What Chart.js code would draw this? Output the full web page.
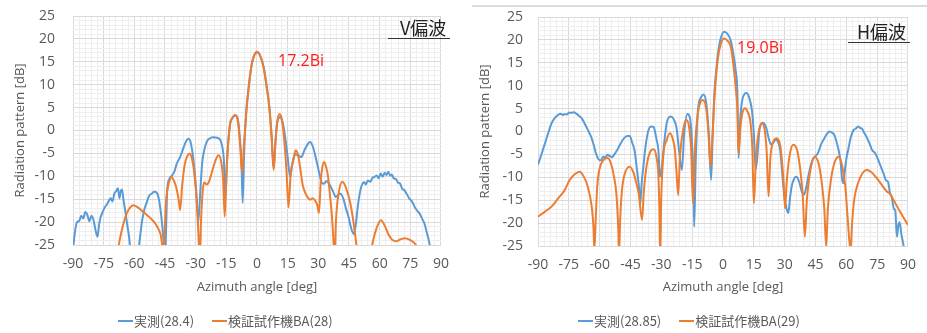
<!DOCTYPE html>
<html>
<head>
<meta charset="utf-8">
<script src="https://cdn.jsdelivr.net/npm/chart.js@4.4.1/dist/chart.umd.min.js"></script>
<style>
  body { margin: 0; background: #fff; width: 927px; height: 333px; position: relative; overflow: hidden; font-family: "Open Sans", "Noto Sans CJK JP", sans-serif; }
  .panel { position: absolute; top: 0; height: 333px; }
  .panel canvas { display: block; }
  .txt { position: absolute; white-space: nowrap; }
  .peak { color: #ff1a1a; font-size: 16px; line-height: 16px; }
  .pol { color: #222; font-size: 18px; line-height: 18px; font-family: "Noto Sans CJK JP", sans-serif; }
  .uline { position: absolute; height: 1px; background: #333; }
  .legend { position: absolute; top: 311px; font-size: 13px; color: #595959; font-family: "Noto Sans CJK JP", sans-serif; display: flex; align-items: center; }
  .legend .sw { display: inline-block; width: 15px; height: 2px; margin-right: 1px; }
  .legend .item { display: flex; align-items: center; margin-right: 18px; }
  #topline { position: absolute; left: 472px; top: 5px; width: 455px; height: 2px; background: #dcdcdc; }
</style>
</head>
<body>
<div id="topline"></div>
<div class="panel" style="left:0;width:460px"><canvas id="vChart" width="460" height="333"></canvas></div>
<div class="panel" style="left:465px;width:462px"><canvas id="hChart" width="462" height="333"></canvas></div>

<div class="txt peak" style="left:278px;top:52px">17.2Bi</div>
<div class="txt pol" style="left:400px;top:18px">V偏波</div>
<div class="uline" style="left:388px;top:38px;width:62px"></div>

<div class="txt peak" style="left:737px;top:39px">19.0Bi</div>
<div class="txt pol" style="left:857px;top:22px">H偏波</div>
<div class="uline" style="left:848px;top:42px;width:62px"></div>

<div class="legend" style="left:118px">
  <span class="item"><span class="sw" style="background:#5b9bd5"></span>実測(28.4)</span>
  <span class="item"><span class="sw" style="background:#ed7d31"></span>検証試作機BA(28)</span>
</div>
<div class="legend" style="left:578px">
  <span class="item"><span class="sw" style="background:#5b9bd5"></span>実測(28.85)</span>
  <span class="item"><span class="sw" style="background:#ed7d31"></span>検証試作機BA(29)</span>
</div>

<script>
// V polarisation - measured (blue)
const vMeasAngle = [-90,-89,-88,-87,-86,-85,-84,-83,-82,-81,-80,-79.3,-78.6,-78,-77.2,-76.4,-75.5,-74.5,-73.5,-72.5,-71.5,-70.7,-69.8,-68.8,-68,-67.3,-66.6,-66,-65.3,-64.5,-63.5,-62.5,-61.5,-58.5,-57.4,-56.3,-55.2,-54,-52.8,-51.5,-50.3,-49,-47.9,-47,-46.2,-45.5,-45,-44.5,-43.9,-42.8,-41.5,-40.3,-39.2,-37.6,-36,-34.6,-33.6,-32.5,-31.5,-30.4,-29.6,-28.7,-27.7,-26.8,-25.8,-24.6,-23.4,-21.5,-19.5,-18,-17,-16.2,-15.5,-14.6,-13.2,-12,-10.5,-9.3,-8.4,-7.6,-7,-6.3,-5.3,-3.9,-2.8,-1.4,0.2,1.6,3.4,4.7,5.9,7.1,8.2,9,9.9,11.3,12.5,13.8,15,16.2,17.3,18.6,20,21.7,23.2,24.9,26,27.3,28.9,30.5,31.8,32.8,34,35.5,37.2,38.5,39.4,40.7,42.2,43.5,44.7,46.3,47.4,48.2,49.5,51,52.5,53.2,54.2,55.5,56.5,57.3,58.5,59.5,60.5,61.5,62.4,63.3,64.2,65.2,66,66.8,68,69,70,71,72,73.2,74.5,75.5,76.3,77.5,78.5,79.5,80.7,81.9,83,84.3,85.5];
const vMeasDb = [-26,-22,-20,-19.8,-18.6,-19.2,-17.8,-18.4,-19.8,-18.6,-19.5,-21,-22.5,-23.2,-20.5,-18.8,-17.8,-16.8,-16.2,-15.4,-14.8,-15.5,-13.8,-13.2,-12.6,-14.8,-13.2,-12.9,-15.2,-17.4,-20.5,-23.5,-28,-28,-24,-20,-17.4,-15.8,-14.3,-13.8,-13.4,-13.6,-15.2,-18,-21.5,-25.5,-30,-22,-13,-10.5,-9.8,-8.8,-7.2,-5.8,-3.8,-2.3,-1.8,-2.5,-5,-9.5,-14,-20,-13,-7,-4.3,-2.5,-1.8,-1.5,-1.6,-2,-3.5,-6.5,-15,-6,1.3,2.7,3.3,2.3,-1.5,-7,-15.8,-5,4,10,13.8,16.4,17.1,16.3,13.6,9.8,5.8,-0.8,-8.2,-2.5,1.8,2.9,1.8,-1.5,-5.8,-10.2,-7.2,-5.2,-5.4,-5.8,-4.3,-2.9,-2.5,-3.5,-6.2,-9.4,-11.5,-11.6,-11,-11.8,-13.3,-14.5,-14.2,-13.8,-14.8,-17,-18.8,-21.7,-22.6,-21,-15.9,-12.3,-11.3,-11.8,-10.9,-11.2,-10.3,-10.2,-9.8,-10.4,-9.4,-10.1,-9.2,-9.7,-9.0,-9.9,-9.6,-10.4,-10.6,-11.4,-11.6,-12.7,-13,-13.8,-14.9,-15.3,-15.9,-17,-17.6,-18.1,-19.2,-20.3,-22.2,-24.6,-28];

// V polarisation - prototype BA (orange)
const vSimAngle = [-70,-68,-66.5,-65,-63.7,-62.2,-60.6,-58.8,-56.6,-54,-51.9,-49.6,-48,-47,-46.3,-45.8,-45.2,-44.4,-43.3,-41.8,-40.4,-39.2,-38.2,-37.6,-36.6,-35.3,-34,-32.9,-31.8,-30.5,-29.4,-28.5,-28.1,-27.4,-26.6,-25.8,-24.6,-23.5,-21.8,-20.2,-18.8,-17.5,-16.6,-15.8,-14.8,-13.3,-12,-10.7,-9.3,-8.2,-7.3,-6.3,-5.2,-3.9,-2.8,-1.3,0,1.4,3.3,4.7,5.9,7.1,8.1,9.2,10,11,12.2,13.4,14.5,15.4,16.5,17.8,18.9,20,21,22.3,23.5,24.8,26,27.2,28.4,29.5,30.3,31.2,31.9,32.8,33.7,34.6,35.8,36.7,37.5,37.9,38.6,39.9,41.8,43.9,45.5,46.7,47.8,48.7,50,54,55.5,56.8,58.5,60.6,62.5,64.2,66,68,70,72.4,74.8,76.5,78,80];
const vSimDb = [-32,-26,-22.5,-19.8,-18.1,-16.9,-16.3,-16.6,-17.4,-18.4,-19.2,-20.4,-21.7,-23,-25.5,-28,-22,-15,-11.8,-10.2,-11.2,-13,-15.5,-17.4,-12,-7.3,-5.5,-5.1,-6.2,-10,-16,-24.5,-30,-20,-13.5,-11.3,-11.8,-11.2,-8.7,-6.4,-5.4,-6.8,-10.5,-18.8,-8,1,2.8,3.4,1.8,-3.5,-9.3,-2.5,4,10.2,13.9,16.5,17.2,16.5,13.6,9.5,5.5,-1,-8.6,-1.5,2.2,3.6,2.3,-2.5,-9.5,-16.8,-9.2,-6.5,-4.3,-5.2,-7.8,-11.8,-13.5,-14.6,-15.1,-14.8,-15.3,-16.3,-18,-11,-8.2,-6.9,-7.8,-9.6,-14.6,-19,-25,-30,-20,-13.8,-11.2,-13,-15.6,-18.5,-22,-25.2,-30,-30,-27,-24,-21.3,-19.6,-20.8,-22.6,-23.8,-24.2,-23.8,-23.5,-23.9,-24.4,-25.2,-28];

// H polarisation - measured (blue)
const hMeasAngle = [-90,-88.2,-86.6,-85,-83.4,-81.8,-80.3,-79,-78,-77,-76,-75,-73.8,-72.5,-71.4,-70,-68.6,-67.4,-65.8,-64.2,-63,-61.8,-60.5,-59.4,-58.3,-57.2,-56.2,-55,-54,-53,-51.4,-49.8,-48.2,-46.6,-45.4,-44.2,-43,-41.9,-40.8,-40.2,-39.6,-38.7,-37.7,-36.3,-35,-33.8,-32.4,-31.4,-30.7,-29.8,-28.6,-27.4,-25.6,-24,-22.6,-21.3,-20,-18.9,-17.3,-16.1,-15.2,-14.5,-14,-13.3,-12.2,-10.6,-9.4,-8.1,-6.9,-5.8,-5,-4.2,-3.2,-2.4,-1.2,0.6,2.2,3.8,5,6.2,7,7.6,8.3,9.4,11.5,12.8,14.1,15,15.9,16.7,17.8,19.3,20.8,22.2,23.3,24.5,25.6,26.7,27.8,28.7,29.8,31,31.8,32.6,33.4,34.6,35.8,37.2,38.4,39.4,40.4,41.4,42.6,43.8,45,46.3,47.8,49.4,50.6,51.8,53.2,54.2,55,56.2,57.1,58,58.6,59.3,60,61,62.2,63.5,64.6,65.7,66.7,67.8,68.6,69.4,70.5,71.6,72.6,73.8,75,76.2,77.4,78.3,79.2,80.3,81.2,82.2,83.1,83.8,84.6,85.3,85.9,86.8,87.8,88.8];
const hMeasDb = [-7.2,-4.8,-2.6,-0.3,1.8,3,3.6,3.9,3.6,3.8,3.7,4.1,4.1,4.2,3.9,3.4,2.8,1.8,0.4,-1.1,-2.8,-4.8,-6.1,-6.3,-5.5,-5.6,-5.1,-5.4,-5.6,-5.1,-4,-2.6,-1.5,-1,-1,-2.4,-4.2,-8.2,-12.5,-15.8,-11.5,-7.5,-3.3,0.2,1.1,1,-1.6,-4.2,-9.9,-8,-2.5,1.8,3.3,2.7,0.8,-4.5,-8.4,-0.5,3.8,3,-1.5,-9,-20.8,-7,4.5,7.5,8.1,6,-0.5,-10.6,-0.5,8.3,13.8,17.1,20.2,21.8,21.3,19.8,17,13.2,8.5,-5.8,2,6.9,8.4,7.3,4.5,-0.5,-8.2,-5.5,0.5,1.9,1.1,-1.4,-2.8,-2.4,-1.8,-2.2,-4,-8.5,-14,-17,-17.8,-14.5,-12,-10.3,-9.9,-11.2,-13.2,-13.8,-12.4,-10,-7.6,-6,-5.4,-4.6,-2.7,-1.4,-0.5,0,-0.3,-0.8,-1.9,-4,-6.2,-10.5,-11.3,-8.5,-6,-3.8,-1.2,0.3,0.6,1.1,0.8,0.5,-0.2,-0.8,-1.8,-3,-4.1,-4.6,-5.6,-7,-8.4,-9.4,-10.6,-11,-13.3,-14.5,-16.9,-17.2,-23,-20.5,-19.8,-22.5,-24.8,-28];

// H polarisation - prototype BA (orange)
const hSimAngle = [-90,-86.6,-83.4,-80,-77,-74.6,-72,-69.8,-67.8,-65.8,-64,-63,-62.6,-62,-61.2,-60.2,-58.3,-56.2,-54.5,-53,-51.8,-50.9,-50.6,-50,-49.2,-48.2,-45.5,-43.5,-42.5,-41,-39.4,-38.5,-37,-35.5,-33.8,-32.4,-31.4,-30.9,-30.6,-30,-29,-27.4,-25.8,-24.5,-23.4,-22.6,-21.8,-21,-19.4,-17.8,-16.5,-15.5,-14.6,-13.8,-12.2,-9.8,-8,-7,-6.1,-5,-4.2,-2.6,-1,0.6,2.2,3.8,5.2,6.3,7,7.5,8.5,9.4,10.7,12,13.4,14.3,15,16,17.2,19,20.2,21.2,22.2,23,24.5,26.2,27.8,28.8,29.6,30.2,31,32.5,34.2,36,37.5,38.8,39.8,40.8,42.5,44.6,46.5,48,49.3,50.2,51,52.7,54.5,56.3,58,59.5,60.5,61.5,62.1,62.8,63.8,65.5,68,70,72,74.5,77,79.5,81.4,84,86.5,88.5,90];
const hSimDb = [-18.6,-17.5,-16.4,-14.5,-12.8,-10.6,-9.3,-8.8,-9.8,-12,-16,-21,-26,-20,-12,-8.4,-6.3,-5.8,-7,-9.9,-14,-22,-27,-19,-13,-9.9,-7.7,-9,-10.7,-13.5,-19.3,-13,-7,-4.5,-3.9,-5.5,-9.9,-18,-27,-14,-5,-1.9,-0.4,-1.5,-4,-9,-13.9,-6,0.3,2.5,1,-4,-15.7,-5,4,6.9,4.5,-1,-7.7,0,7,15.6,19.2,20.3,19.8,18.5,14,9,4.7,-4.8,1,4,5.1,4.3,1.8,-4,-15.7,-6,-0.5,1.8,0.5,-4,-14.2,-6,-2.2,-1.5,-3,-7,-12,-16.8,-11,-5,-2.9,-4,-8,-14,-23,-15,-8.5,-5.5,-7,-11,-17,-25.2,-17,-10,-6.5,-5.5,-7.5,-12,-18,-24,-26,-20,-15,-11.5,-9,-8.4,-8.8,-10,-11.5,-13,-13.7,-15.8,-17.8,-19.3,-20.4];

const xTicks = [-90, -75, -60, -45, -30, -15, 0, 15, 30, 45, 60, 75, 90];
const yTicks = [25, 20, 15, 10, 5, 0, -5, -10, -15, -20, -25];

const blue = '#5b9bd5';
const orange = '#ed7d31';
const labelColor = '#595959';

function zip(ax, ys) {
    return ax.map((a, i) => ({ x: a, y: ys[i] }));
}

function makeChart(id, measA, measD, simA, simD, opts) {
    const ctx = document.getElementById(id).getContext('2d');
    return new Chart(ctx, {
        type: 'line',
        data: {
            datasets: [{
                label: 'meas',
                data: zip(measA, measD),
                borderColor: blue,
                borderWidth: 2,
                pointRadius: 0,
                cubicInterpolationMode: 'monotone',
                order: 2
            }, {
                label: 'sim',
                data: zip(simA, simD),
                borderColor: orange,
                borderWidth: 2,
                pointRadius: 0,
                cubicInterpolationMode: 'monotone',
                order: 1
            }]
        },
        options: {
            responsive: false,
            animation: false,
            parsing: false,
            layout: { padding: { left: 0, right: opts.padRight, top: opts.padTop, bottom: 34 } },
            plugins: { legend: { display: false }, tooltip: { enabled: false } },
            scales: {
                x: {
                    type: 'linear',
                    min: -90, max: 90,
                    afterBuildTicks: (s) => {
                        const t = [];
                        for (let v = -90; v <= 90; v += 3) t.push({ value: v });
                        s.ticks = t;
                    },
                    afterFit: (s) => { s.height = opts.xHeight; },
                    grid: {
                        drawTicks: false,
                        color: (c) => xTicks.includes(c.tick.value) ? '#d9d9d9' : '#eeeeee',
                        lineWidth: 1
                    },
                    border: { display: false },
                    ticks: {
                        autoSkip: false,
                        maxRotation: 0,
                        padding: 11,
                        color: labelColor,
                        font: { family: 'Open Sans', size: 14 },
                        callback: (v) => xTicks.includes(v) ? String(v) : ''
                    },
                    title: {
                        display: true,
                        text: 'Azimuth angle [deg]',
                        color: labelColor,
                        font: { family: 'Open Sans', size: 13 },
                        padding: { top: 0, bottom: 4 }
                    }
                },
                y: {
                    type: 'linear',
                    min: -25, max: 25,
                    afterBuildTicks: (s) => {
                        const t = [];
                        for (let v = -25; v <= 25; v += 1) t.push({ value: v });
                        s.ticks = t;
                    },
                    // fixed box width; keep label overhang from pushing the plot down
                    afterFit: (s) => { s.width = 73; s.paddingTop = 8; s.paddingBottom = 8; },
                    grid: {
                        drawTicks: false,
                        color: (c) => yTicks.includes(c.tick.value) ? '#d9d9d9' : '#eeeeee',
                        lineWidth: 1
                    },
                    border: { display: false },
                    ticks: {
                        autoSkip: false,
                        padding: opts.yPad,
                        color: labelColor,
                        font: { family: 'Open Sans', size: 14 },
                        callback: (v) => yTicks.includes(v) ? String(v) : ''
                    },
                    title: {
                        display: true,
                        text: 'Radiation pattern [dB]',
                        color: labelColor,
                        font: { family: 'Open Sans', size: 13 },
                        padding: { top: opts.yTitlePad, bottom: 0 }
                    }
                }
            }
        }
    });
}

makeChart('vChart', vMeasAngle, vMeasDb, vSimAngle, vSimDb,
    { padRight: 8, padTop: 16, xHeight: 54, yPad: 18, yTitlePad: 12 });
makeChart('hChart', hMeasAngle, hMeasDb, hSimAngle, hSimDb,
    { padRight: 14, padTop: 17, xHeight: 53, yPad: 15, yTitlePad: 12 });
</script>
</body>
</html>
